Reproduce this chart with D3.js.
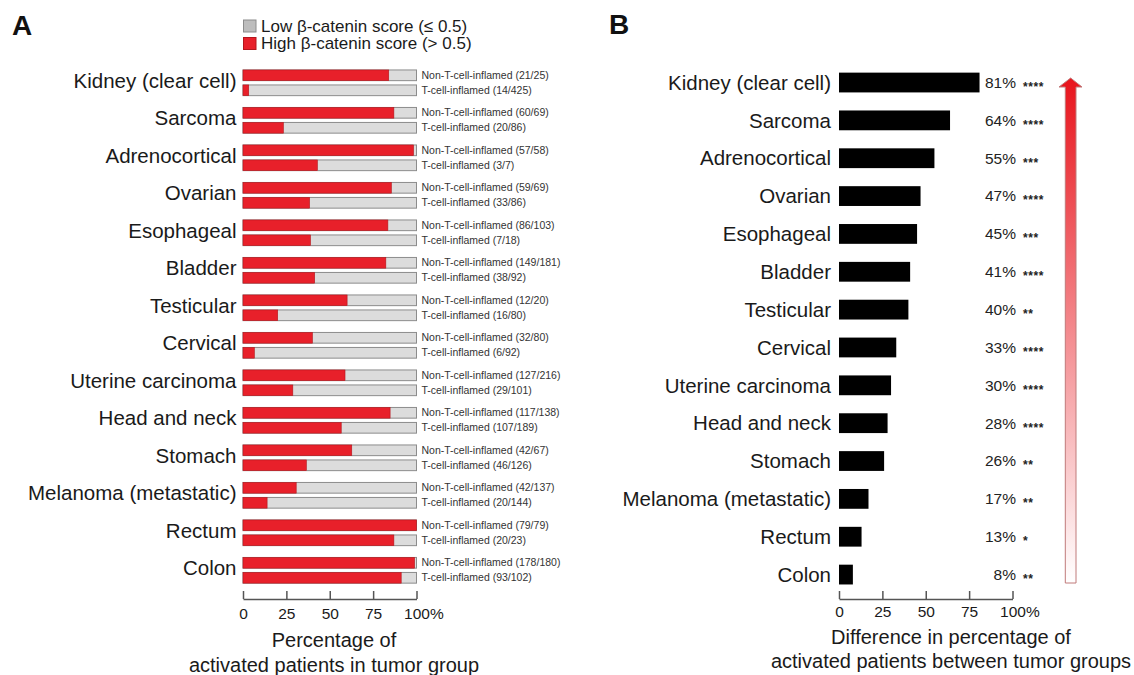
<!DOCTYPE html>
<html>
<head>
<meta charset="utf-8">
<script src="https://cdn.jsdelivr.net/npm/d3@7"></script>
<style>
  html, body { margin: 0; padding: 0; background: #fff; }
  svg { display: block; font-family: "Liberation Sans", Arial, Helvetica, sans-serif; }
</style>
</head>
<body>
<svg id="chart" width="1134" height="675"></svg>
<script>
// ---------------- DATA ----------------
const categories = ["Kidney (clear cell)", "Sarcoma", "Adrenocortical", "Ovarian", "Esophageal",
  "Bladder", "Testicular", "Cervical", "Uterine carcinoma", "Head and neck", "Stomach",
  "Melanoma (metastatic)", "Rectum", "Colon"];
const nonInflamedHigh  = [21, 60, 57, 59, 86, 149, 12, 32, 127, 117, 42, 42, 79, 178];
const nonInflamedTotal = [25, 69, 58, 69, 103, 181, 20, 80, 216, 138, 67, 137, 79, 180];
const inflamedHigh     = [14, 20, 3, 33, 7, 38, 16, 6, 29, 107, 46, 20, 20, 93];
const inflamedTotal    = [425, 86, 7, 86, 18, 92, 80, 92, 101, 189, 126, 144, 23, 102];
const differences      = [81, 64, 55, 47, 45, 41, 40, 33, 30, 28, 26, 17, 13, 8];
const significance     = ["****", "****", "***", "****", "***", "****", "**", "****", "****", "****", "**", "**", "*", "**"];
const xTicks = [0, 25, 50, 75, 100];
const groupKeys = ["Non-T-cell-inflamed", "T-cell-inflamed"];
const legendLabels = ["Low \u03B2-catenin score (\u2264 0.5)", "High \u03B2-catenin score (> 0.5)"];

// ---------------- STYLE ----------------
const RED = "#e8202a";
const RED_STROKE = "#b3161c";
const GRAY_FILL = "#dcdcdc";
const GRAY_STROKE = "#8c8c8c";
const TEXT = "#1a1a1a";

const svg = d3.select("#chart");

// panel letters
svg.append("text").attr("x", 12).attr("y", 35).attr("font-size", 28).attr("font-weight", "bold")
  .attr("fill", "#111").text("A");
svg.append("text").attr("x", 609).attr("y", 34).attr("font-size", 28).attr("font-weight", "bold")
  .attr("fill", "#111").text("B");

// ---------------- PANEL A ----------------
const rowsA = categories.map((c, i) => ({
  cat: c,
  bars: [
    { key: groupKeys[0], n: nonInflamedHigh[i], t: nonInflamedTotal[i] },
    { key: groupKeys[1], n: inflamedHigh[i], t: inflamedTotal[i] }
  ]
}));

const xA = d3.scaleLinear().domain([0, 100]).range([243, 416.5]);
const yA = d3.scaleBand().domain(categories).range([64.05, 589.05])
  .paddingInner(0.315).paddingOuter(0.1575);
const yAin = d3.scaleBand().domain(groupKeys).range([0, yA.bandwidth()]).paddingInner(0.287);

// legend
const legend = svg.append("g");
const legendColors = [[ "#bdbdbd", GRAY_STROKE ], [ RED, RED_STROKE ]];
legendLabels.forEach((lab, i) => {
  const cy = 26 + i * 17.5;
  legend.append("rect").attr("x", 243.5).attr("y", cy - 6).attr("width", 12.5).attr("height", 12)
    .attr("fill", legendColors[i][0]).attr("stroke", legendColors[i][1]).attr("stroke-width", 1);
  legend.append("text").attr("x", 261).attr("y", cy).attr("dy", "0.35em")
    .attr("font-size", 17).attr("fill", TEXT).text(lab);
});

const gA = svg.append("g");
const rowA = gA.selectAll("g.row").data(rowsA).join("g").attr("class", "row")
  .attr("transform", d => `translate(0,${yA(d.cat)})`);

rowA.append("text")
  .attr("x", 236.5).attr("y", yA.bandwidth() / 2 - 2).attr("dy", "0.35em")
  .attr("text-anchor", "end").attr("font-size", 20.5).attr("fill", TEXT)
  .text(d => d.cat);

const barA = rowA.selectAll("g.bar").data(d => d.bars).join("g").attr("class", "bar")
  .attr("transform", d => `translate(0,${yAin(d.key)})`);

barA.append("rect")
  .attr("x", xA(0)).attr("y", 0)
  .attr("width", xA(100) - xA(0)).attr("height", yAin.bandwidth())
  .attr("fill", GRAY_FILL).attr("stroke", GRAY_STROKE).attr("stroke-width", 1);

barA.append("rect")
  .attr("x", xA(0)).attr("y", 0)
  .attr("width", d => xA(100 * d.n / d.t) - xA(0)).attr("height", yAin.bandwidth())
  .attr("fill", RED).attr("stroke", RED_STROKE).attr("stroke-width", 0.6);

barA.append("text")
  .attr("x", 421.5).attr("y", yAin.bandwidth() / 2).attr("dy", "0.35em")
  .attr("font-size", 10.5).attr("fill", "#333")
  .text(d => `${d.key} (${d.n}/${d.t})`);

// axis A
function styleAxis(g) {
  g.selectAll("path.domain").attr("stroke", "#555").attr("stroke-width", 1.5);
  g.selectAll(".tick line").attr("stroke", "#555").attr("stroke-width", 1.5);
  g.selectAll(".tick text").attr("fill", TEXT).attr("font-size", 15.5)
    .attr("font-family", "'Liberation Sans', Arial, Helvetica, sans-serif");
  // percent sign trailing the last tick label
  const last = g.selectAll(".tick").filter(d => d === 100);
  const t = last.select("text");
  const w = t.node().getComputedTextLength();
  last.append("text").attr("x", w / 2).attr("y", t.attr("y")).attr("dy", t.attr("dy"))
    .attr("text-anchor", "start").attr("fill", TEXT).attr("font-size", 15.5)
    .attr("font-family", "'Liberation Sans', Arial, Helvetica, sans-serif").text("%");
}

const axA = svg.append("g").attr("transform", "translate(0,599)")
  .call(d3.axisBottom(xA).tickValues(xTicks).tickSize(-8).tickSizeOuter(0).tickPadding(8.5));
styleAxis(axA);

svg.append("text").attr("x", 334).attr("y", 640).attr("dy", "0.35em").attr("text-anchor", "middle")
  .attr("font-size", 20).attr("fill", TEXT).text("Percentage of");
svg.append("text").attr("x", 334).attr("y", 665).attr("dy", "0.35em").attr("text-anchor", "middle")
  .attr("font-size", 20).attr("fill", TEXT).text("activated patients in tumor group");

// ---------------- PANEL B ----------------
const rowsB = categories.map((c, i) => ({ cat: c, v: differences[i], s: significance[i] }));
const xB = d3.scaleLinear().domain([0, 100]).range([839, 1012.5]);
const yB = d3.scaleBand().domain(categories).range([63.6, 593.5])
  .paddingInner(0.477).paddingOuter(0.2385);

const gB = svg.append("g");
const rowB = gB.selectAll("g.row").data(rowsB).join("g").attr("class", "row")
  .attr("transform", d => `translate(0,${yB(d.cat)})`);

rowB.append("rect")
  .attr("x", xB(0)).attr("y", 0)
  .attr("width", d => xB(d.v) - xB(0)).attr("height", yB.bandwidth())
  .attr("fill", "#000");

rowB.append("text")
  .attr("x", 831).attr("y", yB.bandwidth() / 2).attr("dy", "0.35em")
  .attr("text-anchor", "end").attr("font-size", 20.5).attr("fill", TEXT)
  .text(d => d.cat);

rowB.append("text")
  .attr("x", 1016).attr("y", yB.bandwidth() / 2).attr("dy", "0.35em")
  .attr("text-anchor", "end").attr("font-size", 15.5).attr("fill", "#222")
  .text(d => d.v + "%");

rowB.append("text")
  .attr("x", 1023).attr("y", yB.bandwidth() / 2).attr("dy", "0.7em")
  .attr("font-size", 12).attr("font-weight", "bold").attr("letter-spacing", 0.6).attr("fill", "#222")
  .text(d => d.s);

const axB = svg.append("g").attr("transform", "translate(0,599)")
  .call(d3.axisBottom(xB).tickValues(xTicks).tickSize(-8).tickSizeOuter(0).tickPadding(7));
styleAxis(axB);

svg.append("text").attr("x", 951).attr("y", 637).attr("dy", "0.35em").attr("text-anchor", "middle")
  .attr("font-size", 20).attr("fill", TEXT).text("Difference in percentage of");
svg.append("text").attr("x", 951).attr("y", 661).attr("dy", "0.35em").attr("text-anchor", "middle")
  .attr("font-size", 20).attr("fill", TEXT).text("activated patients between tumor groups");

// gradient arrow
const defs = svg.append("defs");
const grad = defs.append("linearGradient").attr("id", "arrowGrad")
  .attr("x1", 0).attr("y1", 0).attr("x2", 0).attr("y2", 1);
grad.append("stop").attr("offset", "0%").attr("stop-color", "#e8141c");
grad.append("stop").attr("offset", "100%").attr("stop-color", "#ffffff");

const ax0 = 1065.3, ax1 = 1076, tipY = 78, headY = 87, headL = 1059, headR = 1082, botY = 583;
svg.append("path")
  .attr("d", `M${(ax0 + ax1) / 2},${tipY} L${headR},${headY} L${ax1},${headY} L${ax1},${botY} L${ax0},${botY} L${ax0},${headY} L${headL},${headY} Z`)
  .attr("fill", "url(#arrowGrad)").attr("stroke", "#c07a7a").attr("stroke-width", 1);
</script>
</body>
</html>
